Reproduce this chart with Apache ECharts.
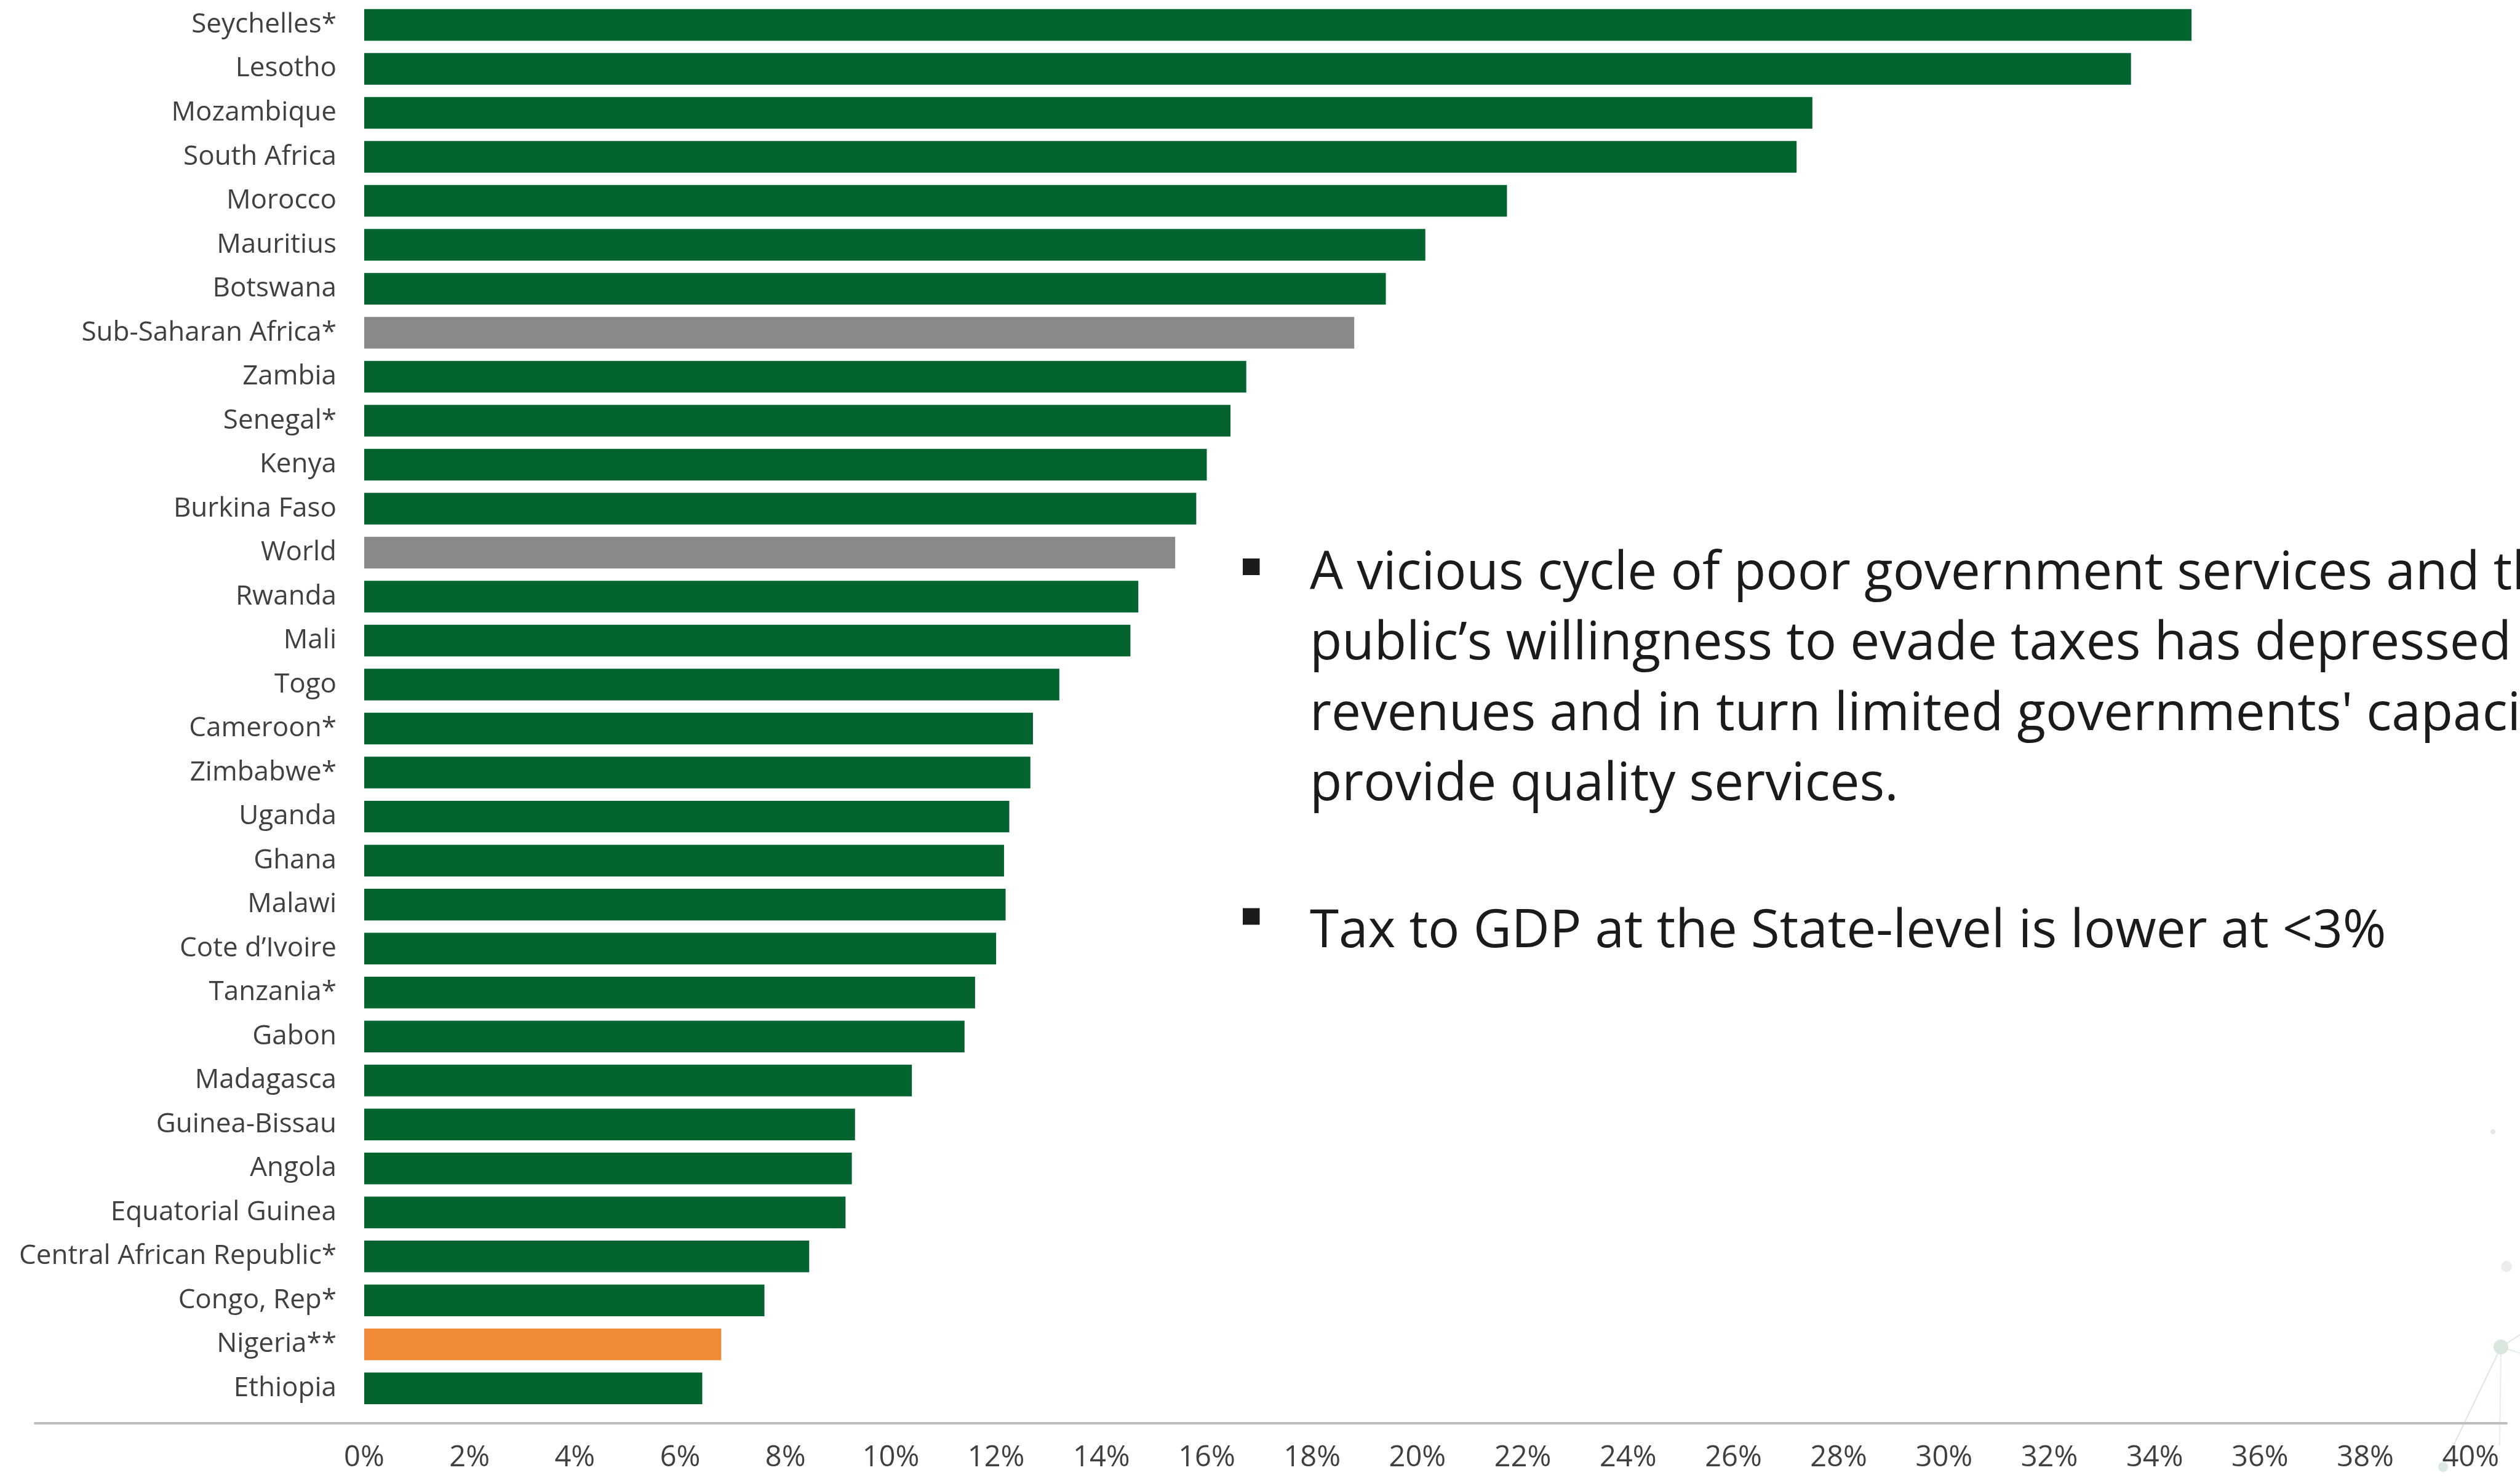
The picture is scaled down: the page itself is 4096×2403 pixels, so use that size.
<!DOCTYPE html>
<html>
<head>
<meta charset="utf-8">
<title>Tax revenue to GDP</title>
<script src="https://cdn.jsdelivr.net/npm/echarts@6/dist/echarts.min.js"></script>
<style>
  html, body { margin: 0; padding: 0; background: #ffffff; }
  #chart { width: 4096px; height: 2403px; }
</style>
</head>
<body>
<div id="chart"></div>
<script>
// Tax revenue as a share of GDP (%), ranked from highest to lowest
const countries = [
  'Seychelles*', 'Lesotho', 'Mozambique', 'South Africa', 'Morocco', 'Mauritius',
  'Botswana', 'Sub-Saharan Africa*', 'Zambia', 'Senegal*', 'Kenya', 'Burkina Faso',
  'World', 'Rwanda', 'Mali', 'Togo', 'Cameroon*', 'Zimbabwe*', 'Uganda', 'Ghana',
  'Malawi', 'Cote d\u2019Ivoire', 'Tanzania*', 'Gabon', 'Madagasca', 'Guinea-Bissau',
  'Angola', 'Equatorial Guinea', 'Central African Republic*', 'Congo, Rep*',
  'Nigeria**', 'Ethiopia'
];
const taxToGdp = [
  34.7, 33.55, 27.5, 27.2, 21.7, 20.15,
  19.4, 18.8, 16.75, 16.45, 16.0, 15.8,
  15.4, 14.7, 14.55, 13.2, 12.7, 12.65, 12.25, 12.15,
  12.18, 12.0, 11.6, 11.4, 10.4, 9.32,
  9.26, 9.14, 8.45, 7.6,
  6.78, 6.42
];
// country = individual country, aggregate = regional / world benchmark, focus = highlighted country
const groups = [
  'country', 'country', 'country', 'country', 'country', 'country',
  'country', 'aggregate', 'country', 'country', 'country', 'country',
  'aggregate', 'country', 'country', 'country', 'country', 'country', 'country', 'country',
  'country', 'country', 'country', 'country', 'country', 'country',
  'country', 'country', 'country', 'country',
  'focus', 'country'
];
const xTickValues = [0, 2, 4, 6, 8, 10, 12, 14, 16, 18, 20, 22, 24, 26, 28, 30, 32, 34, 36, 38, 40];

const bulletOne = [
  'A vicious cycle of poor government services and the',
  'public\u2019s willingness to evade taxes has depressed',
  'revenues and in turn limited governments\' capacity to',
  'provide quality services.'
];
const bulletTwo = 'Tax to GDP at the State-level is lower at <3%';

const groupColors = { country: '#04642F', aggregate: '#898989', focus: '#F08A36' };
const textFont = '"Open Sans", "Noto Sans", sans-serif';

const chart = echarts.init(document.getElementById('chart'), null, { renderer: 'canvas' });

const barData = taxToGdp.map((v, i) => ({
  value: v,
  itemStyle: { color: groupColors[groups[i]] }
}));

chart.setOption({
  backgroundColor: '#ffffff',
  animation: false,
  grid: {
    left: 57, right: 22, top: 4.7, bottom: 110,
    containLabel: false,
    outerBoundsMode: 'none'
  },
  xAxis: {
    type: 'value',
    min: -6.25,
    max: 40.68,
    offset: 20.5,
    splitLine: { show: false },
    axisTick: { show: false },
    axisLine: { show: true, lineStyle: { color: '#BDBDBD', width: 4 } },
    axisLabel: {
      customValues: xTickValues,
      formatter: '{value}%',
      fontFamily: textFont,
      fontSize: 47,
      color: '#404040',
      margin: 34
    }
  },
  yAxis: {
    type: 'category',
    data: countries,
    inverse: true,
    // the category axis sits where the bars start (value 0)
    offset: -535,
    axisLine: { show: false },
    axisTick: { show: false },
    splitLine: { show: false },
    axisLabel: {
      fontFamily: textFont,
      fontSize: 44,
      color: '#404040',
      margin: 45
    }
  },
  series: [{
    type: 'bar',
    data: barData,
    barCategoryGap: '28%',
    silent: true
  }],
  graphic: [
    // bullet points beside the bars
    { type: 'rect', shape: { x: 2020, y: 908, width: 27.5, height: 27 }, style: { fill: '#1b1b1b' } },
    {
      type: 'text', x: 2129, y: 876,
      style: {
        text: bulletOne.join('\n'),
        font: '85.5px ' + textFont,
        lineHeight: 114.5,
        fill: '#1b1b1b',
        verticalAlign: 'top'
      }
    },
    { type: 'rect', shape: { x: 2020, y: 1476.5, width: 27.5, height: 27 }, style: { fill: '#1b1b1b' } },
    {
      type: 'text', x: 2129, y: 1458,
      style: {
        text: bulletTwo,
        font: '85.5px ' + textFont,
        lineHeight: 114.5,
        fill: '#1b1b1b',
        verticalAlign: 'top'
      }
    },
    // faint network ornament in the lower-right corner
    {
      type: 'group', silent: true,
      children: [
        { type: 'line', shape: { x1: 4065, y1: 2190, x2: 3971, y2: 2385 }, style: { stroke: '#DDE8E2', lineWidth: 2 } },
        { type: 'line', shape: { x1: 4065, y1: 2190, x2: 4063, y2: 2350 }, style: { stroke: '#E6EEE9', lineWidth: 2 } },
        { type: 'line', shape: { x1: 4065, y1: 2190, x2: 4096, y2: 2170 }, style: { stroke: '#DDE8E2', lineWidth: 2 } },
        { type: 'line', shape: { x1: 4065, y1: 2190, x2: 4096, y2: 2200 }, style: { stroke: '#E6EEE9', lineWidth: 2 } },
        { type: 'circle', shape: { cx: 4065, cy: 2190, r: 12 }, style: { fill: '#D9E6DE' } },
        { type: 'circle', shape: { cx: 4074, cy: 2059, r: 9 }, style: { fill: '#ECECEC' } },
        { type: 'circle', shape: { cx: 4052, cy: 1840, r: 4 }, style: { fill: '#E8E8E8' } },
        { type: 'circle', shape: { cx: 3971, cy: 2385, r: 8 }, style: { fill: '#DCE8E1' } }
      ]
    }
  ]
});
</script>
</body>
</html>
